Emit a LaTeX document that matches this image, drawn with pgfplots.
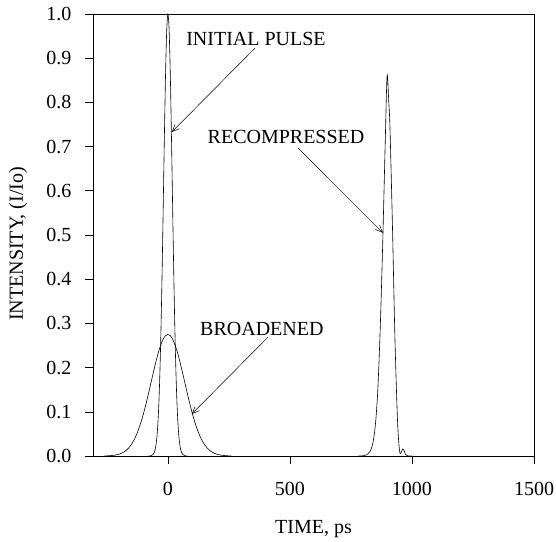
\documentclass[border=0pt]{standalone}
\usepackage{fontspec}
\setmainfont{Liberation Serif}
\usepackage{pgfplots}
\pgfplotsset{compat=1.18}
\usetikzlibrary{arrows.meta}
\begin{document}
\begin{tikzpicture}
\begin{axis}[
  at={(0,0)}, anchor=south west,
  scale only axis, width=441pt, height=442pt,
  xmin=-307, xmax=1500, ymin=0, ymax=1,
  xtick={0,500,1000,1500},
  ytick={0,0.1,0.2,0.3,0.4,0.5,0.6,0.7,0.8,0.9,1.0},
  xtick pos=left, ytick pos=left,
  tick align=outside,
  major tick length=8pt,
  axis line style={line width=0.6pt},
  tick style={line width=0.6pt, black},
  yticklabel style={/pgf/number format/.cd, fixed, fixed zerofill, precision=1, /tikz/.cd, xshift=-10pt},
  xticklabel style={/pgf/number format/.cd, set thousands separator={}, /tikz/.cd, yshift=-15pt},
  /pgf/number format/assume math mode=true,
  tick label style={font=\fontsize{20}{24}\selectfont},
  label style={font=\fontsize{20}{24}\selectfont},
  xlabel={TIME, ps},
  ylabel={INTENSITY, (I/Io)},
  xlabel style={at={(axis description cs:0.5,-0.165)}, anchor=center},
  ylabel style={at={(axis description cs:-0.17,0.48)}, anchor=center},
  every axis plot/.append style={line width=0.6pt, black},
]
% initial pulse
\addplot[smooth] coordinates {
(-80,0) (-70,0.0005) (-60,0.0039) (-55,0.0094) (-50,0.0211) (-45,0.0439) (-40,0.0847)
(-35,0.151) (-30,0.2494) (-25,0.3812) (-20,0.5394) (-15,0.7066) (-10,0.857) (-5,0.9621)
(0,1) (5,0.9621) (10,0.857) (15,0.7066) (20,0.5394) (25,0.3812) (30,0.2494) (35,0.151)
(40,0.0847) (45,0.0439) (50,0.0211) (55,0.0094) (60,0.0039) (70,0.0005) (80,0)
};
% broadened
\addplot[smooth] coordinates {
(-260,0) (-240,0.0007) (-220,0.0017) (-200,0.0041) (-190,0.0062) (-180,0.0092) (-170,0.0132)
(-160,0.0187) (-150,0.0259) (-140,0.0351) (-130,0.0466) (-120,0.0606) (-110,0.0772)
(-100,0.0962) (-90,0.1175) (-80,0.1404) (-70,0.1644) (-60,0.1884) (-50,0.2115) (-40,0.2325)
(-30,0.2502) (-20,0.2637) (-10,0.2721) (0,0.275) (10,0.2721) (20,0.2637) (30,0.2502)
(40,0.2325) (50,0.2115) (60,0.1884) (70,0.1644) (80,0.1404) (90,0.1175) (100,0.0962)
(110,0.0772) (120,0.0606) (130,0.0466) (140,0.0351) (150,0.0259) (160,0.0187) (170,0.0132)
(180,0.0092) (190,0.0062) (200,0.0041) (220,0.0017) (240,0.0007) (260,0)
};
% recompressed
\addplot[smooth] coordinates {
(780,0) (805,0.001) (820,0.005) (830,0.012) (840,0.03) (850,0.07) (860,0.15) (870,0.29)
(880,0.48) (890,0.70) (898,0.86) (905,0.80) (910,0.74) (920,0.52) (930,0.27) (940,0.09)
(946,0.03) (951,0.006) (956,0.008) (962,0.016) (968,0.012) (974,0.003) (985,0) (1000,0)
};
\node[font=\fontsize{20}{24}\selectfont] at (axis cs:361,0.943) {INITIAL PULSE};
\node[font=\fontsize{20}{24}\selectfont] at (axis cs:484,0.722) {RECOMPRESSED};
\node[font=\fontsize{20}{24}\selectfont] at (axis cs:385,0.287) {BROADENED};
\draw[-{Straight Barb[length=7pt,width=6pt]}, line width=0.5pt] (axis cs:357,0.923) -- (axis cs:16,0.733);
\draw[-{Straight Barb[length=7pt,width=6pt]}, line width=0.5pt] (axis cs:533,0.697) -- (axis cs:881,0.505);
\draw[-{Straight Barb[length=7pt,width=6pt]}, line width=0.5pt] (axis cs:410,0.269) -- (axis cs:98,0.095);
\end{axis}
\pgfresetboundingbox
\useasboundingbox (-93pt,-85pt) rectangle (463pt,456pt);
\end{tikzpicture}
\end{document}
